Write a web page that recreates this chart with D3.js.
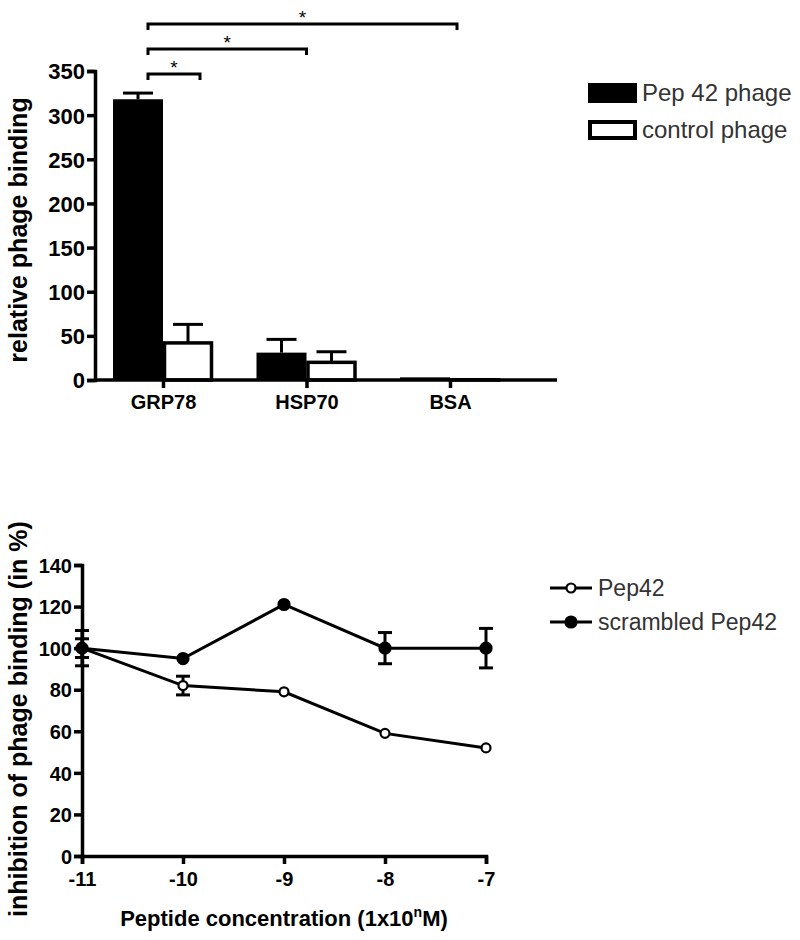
<!DOCTYPE html>
<html>
<head>
<meta charset="utf-8">
<script src="https://cdn.jsdelivr.net/npm/d3@7"></script>
<style>
  body { margin: 0; background: #fff; }
  svg text { font-family: Arial, "Liberation Sans", sans-serif; }
</style>
</head>
<body>
<svg width="800" height="940"></svg>
<script>
// ---- top panel data ----
var categories = ["GRP78", "HSP70", "BSA"];
var pepPhage = [318, 31, 3];
var pepPhageErr = [7, 15, 0];
var controlPhage = [42, 20, 0.3];
var controlPhageErr = [21, 12, 0];
var topTicks = [0, 50, 100, 150, 200, 250, 300, 350];
var topLegend = ["Pep 42 phage", "control phage"];

// ---- bottom panel data ----
var concentration = [-11, -10, -9, -8, -7];
var pep42 = [100, 82, 79, 59, 52];
var pep42Err = [4.5, 4.5, 0, 0, 0];
var scrambled = [100, 95, 121, 100, 100];
var scrambledErr = [8.5, 0, 0, 7.5, 9.5];
var bottomYTicks = [0, 20, 40, 60, 80, 100, 120, 140];
var bottomLegend = ["Pep42", "scrambled Pep42"];

var svg = d3.select("svg");

// ================= top bar chart =================
var x1 = d3.scalePoint().domain(categories).range([163, 450]);
var y1 = d3.scaleLinear().domain([0, 350]).range([380, 71]);
var barW = 50;

var topG = svg.append("g").attr("class", "top");

// bars
categories.forEach(function (c, i) {
    var cx = x1(c);
    // pep 42 phage (black)
    topG.append("rect")
        .attr("x", cx - barW).attr("width", barW)
        .attr("y", y1(pepPhage[i])).attr("height", y1(0) - y1(pepPhage[i]))
        .attr("fill", "#000");
    // control phage (white, outlined)
    topG.append("rect")
        .attr("x", cx + 1.5).attr("width", barW - 3)
        .attr("y", y1(controlPhage[i])).attr("height", Math.max(0, y1(0) - y1(controlPhage[i])))
        .attr("fill", "#fff").attr("stroke", "#000").attr("stroke-width", 3.5);
    // error bars (upper only)
    [[cx - barW / 2, pepPhage[i], pepPhageErr[i]], [cx + barW / 2, controlPhage[i], controlPhageErr[i]]]
        .forEach(function (e) {
            if (!e[2]) return;
            topG.append("line").attr("x1", e[0]).attr("x2", e[0])
                .attr("y1", y1(e[1])).attr("y2", y1(e[1] + e[2]))
                .attr("stroke", "#000").attr("stroke-width", 3);
            topG.append("line").attr("x1", e[0] - 15).attr("x2", e[0] + 15)
                .attr("y1", y1(e[1] + e[2])).attr("y2", y1(e[1] + e[2]))
                .attr("stroke", "#000").attr("stroke-width", 3);
        });
});

// y axis
var yAxis1 = topG.append("g").attr("transform", "translate(95,0)")
    .call(d3.axisLeft(y1).tickValues(topTicks).tickSize(8).tickPadding(2));
// x axis
var xAxis1 = topG.append("g").attr("transform", "translate(0,380)")
    .call(d3.axisBottom(x1).tickSize(8).tickPadding(7));
xAxis1.select(".domain").attr("d", "M95,0H557");

[yAxis1, xAxis1].forEach(function (a) {
    a.selectAll("path, line").attr("stroke", "#000").attr("stroke-width", 3.5);
    a.selectAll("text").attr("fill", "#000").attr("font-weight", "bold");
});
yAxis1.selectAll("text").attr("font-size", 22).attr("dy", "0.36em");
xAxis1.selectAll("text").attr("font-size", 20);

topG.append("text")
    .attr("transform", "translate(27,230) rotate(-90)")
    .attr("text-anchor", "middle")
    .attr("font-size", 25).attr("font-weight", "bold")
    .text("relative phage binding");

// significance brackets: start at GRP78 and end at a category offset
var brackets = [
    { from: "GRP78", fromOff: -15, to: "GRP78", toOff: 37, level: 0 },
    { from: "GRP78", fromOff: -15, to: "HSP70", toOff: 0, level: 1 },
    { from: "GRP78", fromOff: -15, to: "BSA", toOff: 7, level: 2 }
];
brackets.forEach(function (b) {
    var xa = x1(b.from) + b.fromOff, xb = x1(b.to) + b.toOff;
    var yb = 74 - b.level * 25;
    topG.append("path")
        .attr("d", "M" + xa + "," + (yb + 6) + "V" + yb + "H" + xb + "V" + (yb + 6))
        .attr("fill", "none").attr("stroke", "#000").attr("stroke-width", 3);
    topG.append("text")
        .attr("x", (xa + xb) / 2).attr("y", yb)
        .attr("text-anchor", "middle").attr("font-size", 19)
        .text("*");
});

// legend
var leg1 = topG.append("g").attr("transform", "translate(588,83)");
topLegend.forEach(function (t, i) {
    var g = leg1.append("g").attr("transform", "translate(0," + i * 37 + ")");
    if (i === 0) {
        g.append("rect").attr("width", 49).attr("height", 20).attr("fill", "#000");
    } else {
        g.append("rect").attr("x", 2).attr("y", 2).attr("width", 45).attr("height", 16)
            .attr("fill", "#fff").attr("stroke", "#000").attr("stroke-width", 4);
    }
    g.append("text").attr("x", 54).attr("y", 18)
        .attr("font-size", 24).attr("fill", "#333").text(t);
});

// ================= bottom line chart =================
var x2 = d3.scaleLinear().domain([-11, -7]).range([82, 486]);
var y2 = d3.scaleLinear().domain([0, 140]).range([856, 565]);
var bot = svg.append("g").attr("class", "bottom");

var yAxis2 = bot.append("g").attr("transform", "translate(82,0)")
    .call(d3.axisLeft(y2).tickValues(bottomYTicks).tickSize(8).tickPadding(2));
var xAxis2 = bot.append("g").attr("transform", "translate(0,856)")
    .call(d3.axisBottom(x2).tickValues(concentration).tickFormat(function (d) { return String(d); })
        .tickSize(8).tickPadding(8));
[yAxis2, xAxis2].forEach(function (a) {
    a.selectAll("path, line").attr("stroke", "#000").attr("stroke-width", 3.5);
    a.selectAll("text").attr("fill", "#000").attr("font-weight", "bold").attr("font-size", 20);
});
yAxis2.selectAll("text").attr("dy", "0.36em");

var line = d3.line().x(function (d) { return x2(d[0]); }).y(function (d) { return y2(d[1]); });

function drawSeries(vals, errs, filled) {
    var pts = concentration.map(function (c, i) { return [c, vals[i], errs[i]]; });
    bot.append("path").datum(pts).attr("d", line)
        .attr("fill", "none").attr("stroke", "#000").attr("stroke-width", 3);
    pts.forEach(function (p) {
        if (!p[2]) return;
        var cx = x2(p[0]);
        bot.append("line").attr("x1", cx).attr("x2", cx)
            .attr("y1", y2(p[1] - p[2])).attr("y2", y2(p[1] + p[2]))
            .attr("stroke", "#000").attr("stroke-width", 3);
        [p[1] - p[2], p[1] + p[2]].forEach(function (v) {
            bot.append("line").attr("x1", cx - 7).attr("x2", cx + 7)
                .attr("y1", y2(v)).attr("y2", y2(v))
                .attr("stroke", "#000").attr("stroke-width", 3);
        });
    });
    bot.selectAll(null).data(pts).enter().append("circle")
        .attr("cx", function (d) { return x2(d[0]); })
        .attr("cy", function (d) { return y2(d[1]); })
        .attr("r", filled ? 5.5 : 4.5)
        .attr("fill", filled ? "#000" : "#fff")
        .attr("stroke", "#000").attr("stroke-width", 2.2);
}
drawSeries(pep42, pep42Err, false);
drawSeries(scrambled, scrambledErr, true);

bot.append("text")
    .attr("transform", "translate(27,719) rotate(-90)")
    .attr("text-anchor", "middle")
    .attr("font-size", 25).attr("font-weight", "bold")
    .text("inhibition of phage binding (in %)");

var xl = bot.append("text")
    .attr("x", 284).attr("y", 926)
    .attr("text-anchor", "middle")
    .attr("font-size", 22).attr("font-weight", "bold");
xl.append("tspan").text("Peptide concentration (1x10");
xl.append("tspan").attr("dy", -9).attr("font-size", 14).text("n");
xl.append("tspan").attr("dy", 9).text("M)");

// legend
var leg2 = bot.append("g").attr("transform", "translate(550,588)");
bottomLegend.forEach(function (t, i) {
    var g = leg2.append("g").attr("transform", "translate(0," + i * 34 + ")");
    g.append("line").attr("x1", 0).attr("x2", 42).attr("stroke", "#000").attr("stroke-width", 3);
    g.append("circle").attr("cx", 21).attr("r", i === 0 ? 4.5 : 5.5)
        .attr("fill", i === 0 ? "#fff" : "#000").attr("stroke", "#000").attr("stroke-width", 2.2);
    g.append("text").attr("x", 48).attr("y", 8)
        .attr("font-size", 23).attr("fill", "#333").text(t);
});
</script>
</body>
</html>
